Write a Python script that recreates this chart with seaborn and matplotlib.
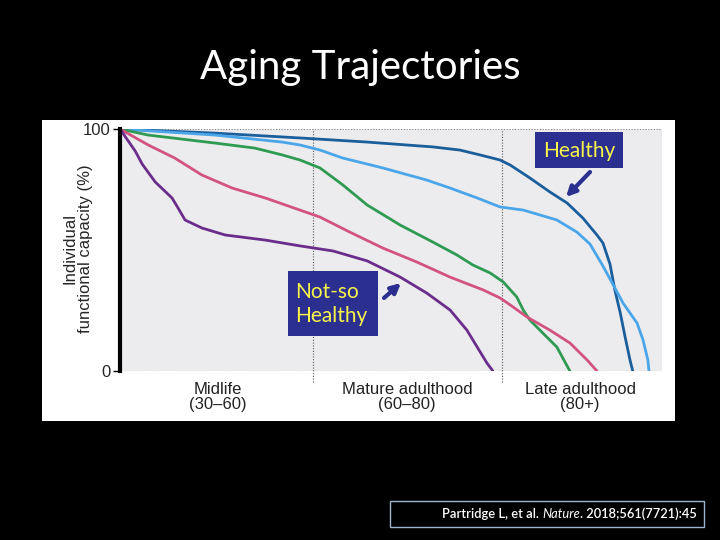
import pandas as pd
import numpy as np
import matplotlib
matplotlib.use('Agg')
import matplotlib.pyplot as plt
from matplotlib.patches import Rectangle
import seaborn as sns

# curve data: position along the life course (0-100 of axis) vs capacity (%)
healthy_dark_x = [0, 17.5, 33.2, 45.6, 57.7, 62.7, 66.4, 70.1, 72.0, 75.6, 79.3, 82.5, 85.4, 88.0,
                  89.1, 90.4, 91.3, 92.3, 93.2, 94.1, 94.6]
healthy_dark_y = [100, 98.3, 96.3, 94.6, 92.6, 91.3, 89.3, 87.2, 85.1, 79.8, 74.0, 69.4, 63.2, 56.2,
                  52.9, 44.2, 33.5, 24.0, 14.0, 4.5, 0]
healthy_light_x = [0, 17.5, 29.9, 33.2, 36.9, 41.1, 48.5, 56.6, 60.9, 65.9, 70.1, 74.4, 80.6, 84.3,
                   86.7, 89.1, 90.8, 92.8, 95.4, 96.5, 97.4, 97.6]
healthy_light_y = [100, 97.5, 94.6, 93.4, 91.3, 88.0, 83.9, 78.9, 75.6, 71.5, 67.8, 66.5, 62.4, 57.4,
                   52.5, 43.4, 36.4, 28.1, 19.8, 12.8, 4.5, 0]
green_x = [0, 5.2, 17.5, 24.9, 29.9, 33.2, 36.9, 41.1, 45.6, 51.7, 57.7, 62.2, 65.1, 68.3, 70.7,
           73.2, 74.4, 75.6, 78.0, 80.6, 83.0]
green_y = [100, 97.5, 94.2, 92.1, 89.3, 87.2, 83.9, 76.9, 68.6, 60.3, 53.3, 47.9, 43.8, 40.5, 36.8,
           30.6, 25.2, 21.1, 15.7, 9.9, 0]
pink_x = [0, 5.2, 10.1, 15.1, 20.7, 26.8, 33.2, 36.9, 42.4, 48.5, 54.8, 60.9, 67.0, 70.1, 72.0,
          75.1, 79.3, 83.0, 86.2, 88.0]
pink_y = [100, 93.4, 88.0, 81.0, 75.6, 71.5, 66.5, 63.6, 57.4, 50.8, 45.0, 38.8, 33.5, 30.2, 27.3,
          22.3, 16.9, 11.6, 4.5, 0]
purple_x = [0, 2.8, 4.1, 6.5, 9.6, 10.7, 12.0, 15.1, 19.4, 26.8, 33.2, 39.3, 45.6, 51.7, 56.6,
            60.9, 64.0, 65.9, 67.7, 68.8]
purple_y = [100, 90.9, 85.5, 78.1, 71.5, 67.4, 62.4, 59.1, 56.2, 54.1, 51.7, 49.6, 45.5, 38.8, 32.2,
            25.2, 16.9, 9.9, 3.3, 0]

stage_labels = ["Midlife\n(30\u201360)", "Mature adulthood\n(60\u201380)", "Late adulthood\n(80+)"]
stage_centers = [18.1, 53.0, 84.9]
stage_bounds = [35.6, 70.5]

series = {
    "dark": (healthy_dark_x, healthy_dark_y),
    "light": (healthy_light_x, healthy_light_y),
    "green": (green_x, green_y),
    "pink": (pink_x, pink_y),
    "purple": (purple_x, purple_y),
}
rows = []
for name, (xs, ys) in series.items():
    for x, y in zip(xs, ys):
        rows.append({"pos": x, "capacity": y, "trajectory": name})
df = pd.DataFrame(rows)

palette = {"dark": "#1b5e9c", "light": "#4aa6e8", "green": "#2f9a52",
           "pink": "#d2537f", "purple": "#6b2d8c"}

sns.set_style("white")
plt.rcParams['font.family'] = ['Liberation Sans', 'DejaVu Sans']

fig = plt.figure(figsize=(7.2, 5.4), dpi=100, facecolor='black')
W, H = 720, 540

def fx(px):
    return px / W

def fy(py):
    return 1 - py / H

# white panel behind the chart
fig.patches.append(Rectangle((fx(42), fy(421)), (675 - 42) / W, (421 - 120) / H,
                             transform=fig.transFigure, facecolor='white', edgecolor='none', zorder=0))

ax = fig.add_axes([fx(120), fy(371), 542 / W, 242 / H], zorder=1)
ax.set_facecolor('#ececef')

sns.lineplot(data=df, x="pos", y="capacity", hue="trajectory", palette=palette,
             sort=False, estimator=None, legend=False, linewidth=2.0, ax=ax)

ax.set_xlim(0, 100)
ax.set_ylim(0, 100)
for s in ["top", "right", "bottom"]:
    ax.spines[s].set_visible(False)
ax.spines["left"].set_linewidth(3)
ax.spines["left"].set_color("black")
ax.axhline(100, color='#888888', ls=(0, (1, 1.5)), lw=0.8, zorder=0)
ax.axhline(0, color='#888888', ls=(0, (1, 1.5)), lw=0.8, zorder=0)
ax.axvline(100, color='#888888', ls=(0, (1, 1.5)), lw=0.8, zorder=0)
for b in stage_bounds:
    ax.plot([b, b], [-4.5, 100], color='#555555', ls=(0, (1, 1.5)), lw=0.8, clip_on=False, zorder=0)

ax.set_yticks([0, 100])
ax.set_yticklabels(["0", "100"], fontsize=12)
ax.tick_params(axis='y', length=5, width=1, color='black', pad=2, left=True)
ax.set_xticks([])
ax.set_xlabel("")
ax.set_ylabel("Individual\nfunctional capacity (%)", fontsize=12, linespacing=1.05)
ax.yaxis.set_label_coords(-0.05, 0.505)

for lab, c in zip(stage_labels, stage_centers):
    ax.text(c, -0.045, lab, transform=ax.get_xaxis_transform(), ha='center', va='top',
            fontsize=12, linespacing=1.05, color='#222222')

# title
fig.text(0.5, fy(68), "Aging Trajectories", ha='center', va='center', color='white',
         fontsize=29, family=['Lato', 'DejaVu Sans'])

# annotation boxes
navy = '#2b2f8f'
yellow = '#f7f54a'
fig.patches.append(Rectangle((fx(535), fy(168)), 88 / W, 36 / H, transform=fig.transFigure,
                             facecolor=navy, edgecolor='none', zorder=3))
fig.text(fx(579), fy(151), "Healthy", ha='center', va='center', color=yellow,
         fontsize=15, family=['Lato', 'DejaVu Sans'], zorder=4)
fig.patches.append(Rectangle((fx(288), fy(336)), 90 / W, 65 / H, transform=fig.transFigure,
                             facecolor=navy, edgecolor='none', zorder=3))
fig.text(fx(295), fy(304), "Not-so\nHealthy", ha='left', va='center', color=yellow,
         fontsize=15, family=['Lato', 'DejaVu Sans'], linespacing=1.25, zorder=4)

arrow_kw = dict(arrowstyle='-|>', color=navy, lw=3, mutation_scale=14, shrinkA=0, shrinkB=0)
ax.annotate('', xy=(fx(566), fy(197)), xytext=(fx(590), fy(172)),
            xycoords='figure fraction', textcoords='figure fraction', arrowprops=arrow_kw,
            annotation_clip=False)
ax.annotate('', xy=(fx(401), fy(283)), xytext=(fx(384), fy(298)),
            xycoords='figure fraction', textcoords='figure fraction', arrowprops=arrow_kw,
            annotation_clip=False)

# citation box
fig.patches.append(Rectangle((fx(390), fy(527)), 314 / W, 26 / H, transform=fig.transFigure,
                             facecolor='black', edgecolor='#9fb3d1', lw=1, zorder=3))
cite_font = ['Lato', 'DejaVu Sans']
t1 = fig.text(fx(442), fy(514), "Partridge L, et al. ", ha='left', va='center', color='white',
              fontsize=9.3, family=cite_font, weight='semibold', zorder=4)
t2 = fig.text(0, 0, "Nature", color='white', fontsize=9.3, family=cite_font, style='italic', zorder=4)
t3 = fig.text(0, 0, ". 2018;561(7721):45", color='white', fontsize=9.3, family=cite_font,
              weight='semibold', zorder=4)
fig.canvas.draw()
r = fig.canvas.get_renderer()
bb1 = t1.get_window_extent(r).transformed(fig.transFigure.inverted())
t2.set_position((bb1.x1, fy(514)))
t2.set_va('center')
fig.canvas.draw()
bb2 = t2.get_window_extent(r).transformed(fig.transFigure.inverted())
t3.set_position((bb2.x1, fy(514)))
t3.set_va('center')

plt.savefig("out.png", dpi=100, facecolor='black')
plt.close()
